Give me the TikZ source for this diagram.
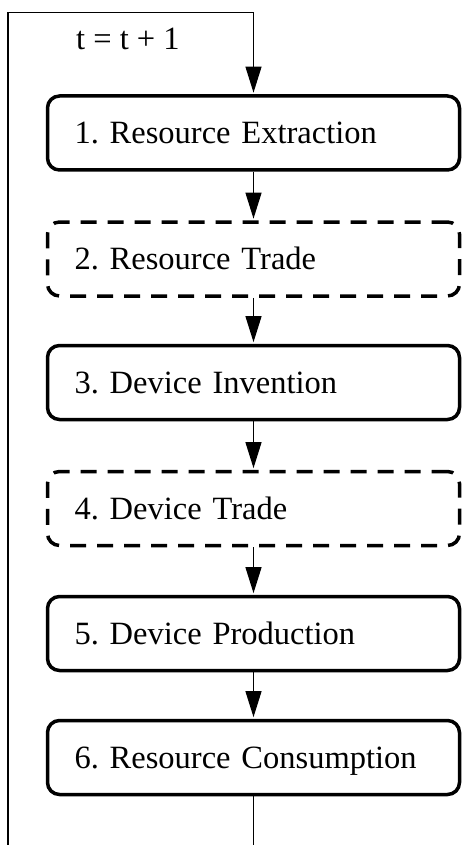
\documentclass[tikz,border=0pt]{standalone}
\usepackage{fontspec}
\setmainfont{Liberation Serif}
\usetikzlibrary{arrows.meta}
\begin{document}
\frenchspacing
\begin{tikzpicture}[x=1pt,y=-1pt,
  txt/.style={font=\fontsize{32.5}{39}\selectfont\frenchspacing},
  stage/.style={draw, line width=3.5pt, rounded corners=12pt,
    minimum width=412pt, minimum height=74pt, text width=358pt,
    inner xsep=27pt, inner ysep=0pt, align=left, txt,
    text height=21pt, text depth=0pt},
  tradebox/.style={stage, dash pattern=on 16pt off 11pt},
  flow/.style={line width=1.2pt, -{Triangle[length=26pt,width=16pt]}, shorten >=1.6pt},
  loopline/.style={line width=1.1pt}]
\useasboundingbox (0,0) rectangle (462,845);
\clip (0,0) rectangle (462,845);
\node[stage]    (b1) at (253.5,133)   {1. Resource Extraction};
\node[tradebox] (b2) at (253.5,259)   {2. Resource Trade};
\node[stage]    (b3) at (253.5,382.5) {3. Device Invention};
\node[tradebox] (b4) at (253.5,508.5) {4. Device Trade};
\node[stage]    (b5) at (253.5,633.5) {5. Device Production};
\node[stage]    (b6) at (253.5,757.5) {6. Resource Consumption};
\node[txt, anchor=base west, inner sep=0pt] (tl) at (76,50) {t = t + 1};
\coordinate (lb) at (8,880);
\coordinate (lt) at (8,12.5);
\draw[flow] (b1) -- (b2);
\draw[flow] (b2) -- (b3);
\draw[flow] (b3) -- (b4);
\draw[flow] (b4) -- (b5);
\draw[flow] (b5) -- (b6);
\draw[flow, line width=1.1pt] (b6.south) -- (b6.south |- lb) -| (lt) -- (b1.north |- lt) -- (b1.north);
\end{tikzpicture}
\end{document}
